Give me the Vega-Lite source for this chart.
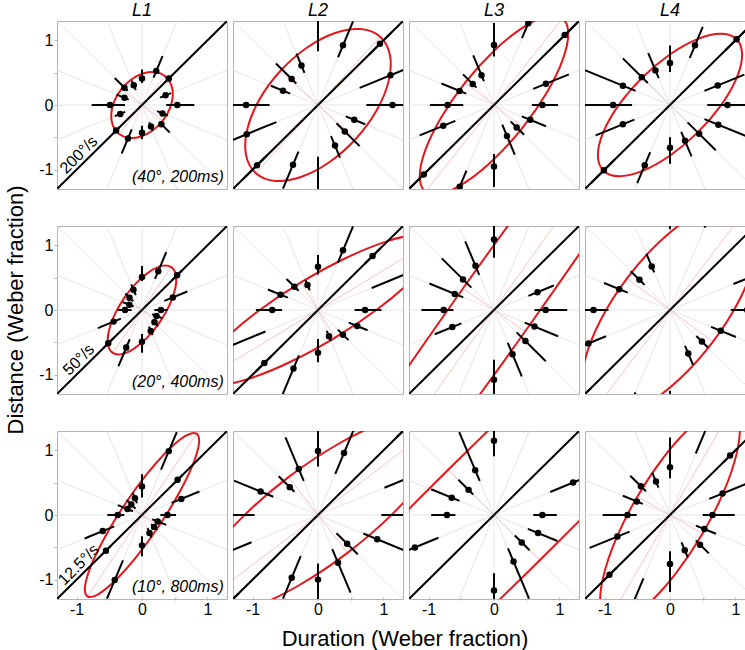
{
"$schema":"https://vega.github.io/schema/vega-lite/v6.json",
"padding":{"left":4,"top":2,"right":0,"bottom":0},
"config":{"font":"Liberation Sans","view":{"stroke":"#b4b4b4","strokeWidth":1},
"axis":{"grid":false,"domain":false,"tickColor":"#b4b4b4","tickSize":-3,"labelFontSize":16,"labelColor":"#000","labelPadding":4,"minExtent":0},
"axisX":{"minExtent":0},"axisY":{"minExtent":0}},
"datasets":{"dirs":[
{"k":0,"z":0,"c":1,"s":0,"ex":2,"ey":0},
{"k":1,"z":0,"c":0.9239,"s":0.3827,"ex":1.848,"ey":0.765},
{"k":2,"z":0,"c":0.7071,"s":0.7071,"ex":1.414,"ey":1.414},
{"k":3,"z":0,"c":0.3827,"s":0.9239,"ex":0.765,"ey":1.848},
{"k":4,"z":0,"c":0,"s":1,"ex":0,"ey":2},
{"k":5,"z":0,"c":-0.3827,"s":0.9239,"ex":-0.765,"ey":1.848},
{"k":6,"z":0,"c":-0.7071,"s":0.7071,"ex":-1.414,"ey":1.414},
{"k":7,"z":0,"c":-0.9239,"s":0.3827,"ex":-1.848,"ey":0.765},
{"k":8,"z":0,"c":-1,"s":0,"ex":-2,"ey":0},
{"k":9,"z":0,"c":-0.9239,"s":-0.3827,"ex":-1.848,"ey":-0.765},
{"k":10,"z":0,"c":-0.7071,"s":-0.7071,"ex":-1.414,"ey":-1.414},
{"k":11,"z":0,"c":-0.3827,"s":-0.9239,"ex":-0.765,"ey":-1.848},
{"k":12,"z":0,"c":0,"s":-1,"ex":0,"ey":-2},
{"k":13,"z":0,"c":0.3827,"s":-0.9239,"ex":0.765,"ey":-1.848},
{"k":14,"z":0,"c":0.7071,"s":-0.7071,"ex":1.414,"ey":-1.414},
{"k":15,"z":0,"c":0.9239,"s":-0.3827,"ex":1.848,"ey":-0.765}
]},
"data":{"values":[
{"kind":"lab","row":1,"col":"L1","sp":"200°/s","cond":"(40°, 200ms)"},
{"kind":"lab","row":2,"col":"L1","sp":"50°/s","cond":"(20°, 400ms)"},
{"kind":"lab","row":3,"col":"L1","sp":"12.5°/s","cond":"(10°, 800ms)"},

{"kind":"pt","row":1,"col":"L1","k":0,"r":0.54,"lo":0.37,"hi":0.80},
{"kind":"pt","row":1,"col":"L1","k":1,"r":0.39,"lo":0.30,"hi":0.48},
{"kind":"pt","row":1,"col":"L1","k":2,"r":0.58,"lo":0.50,"hi":0.66},
{"kind":"pt","row":1,"col":"L1","k":3,"r":0.57,"lo":0.46,"hi":0.82},
{"kind":"pt","row":1,"col":"L1","k":4,"r":0.41,"lo":0.34,"hi":0.55},
{"kind":"pt","row":1,"col":"L1","k":5,"r":0.33,"lo":0.25,"hi":0.41},
{"kind":"pt","row":1,"col":"L1","k":6,"r":0.38,"lo":0.31,"hi":0.59},
{"kind":"pt","row":1,"col":"L1","k":7,"r":0.29,"lo":0.22,"hi":0.42},
{"kind":"pt","row":1,"col":"L1","k":8,"r":0.49,"lo":0.26,"hi":0.77},
{"kind":"pt","row":1,"col":"L1","k":9,"r":0.36,"lo":0.28,"hi":0.45},
{"kind":"pt","row":1,"col":"L1","k":10,"r":0.56,"lo":0.48,"hi":0.64},
{"kind":"pt","row":1,"col":"L1","k":11,"r":0.56,"lo":0.41,"hi":0.81},
{"kind":"pt","row":1,"col":"L1","k":12,"r":0.43,"lo":0.32,"hi":0.53},
{"kind":"pt","row":1,"col":"L1","k":13,"r":0.36,"lo":0.29,"hi":0.43},
{"kind":"pt","row":1,"col":"L1","k":14,"r":0.42,"lo":0.37,"hi":0.60},
{"kind":"pt","row":1,"col":"L1","k":15,"r":0.34,"lo":0.25,"hi":0.43},

{"kind":"pt","row":1,"col":"L2","k":0,"r":1.14,"lo":0.74,"hi":1.45},
{"kind":"pt","row":1,"col":"L2","k":1,"r":1.20,"lo":0.69,"hi":1.5},
{"kind":"pt","row":1,"col":"L2","k":2,"r":1.34,"lo":1.1,"hi":1.6},
{"kind":"pt","row":1,"col":"L2","k":3,"r":1.0,"lo":0.80,"hi":1.40},
{"kind":"pt","row":1,"col":"L2","k":4,"r":1.45,"lo":0.83,"hi":1.8},
{"kind":"pt","row":1,"col":"L2","k":5,"r":0.66,"lo":0.54,"hi":0.86},
{"kind":"pt","row":1,"col":"L2","k":6,"r":0.57,"lo":0.47,"hi":0.91},
{"kind":"pt","row":1,"col":"L2","k":7,"r":0.58,"lo":0.46,"hi":0.78},
{"kind":"pt","row":1,"col":"L2","k":8,"r":1.10,"lo":0.74,"hi":1.4},
{"kind":"pt","row":1,"col":"L2","k":9,"r":1.18,"lo":0.69,"hi":1.5},
{"kind":"pt","row":1,"col":"L2","k":10,"r":1.32,"lo":1.1,"hi":1.6},
{"kind":"pt","row":1,"col":"L2","k":11,"r":1.0,"lo":0.78,"hi":1.40},
{"kind":"pt","row":1,"col":"L2","k":12,"r":1.45,"lo":0.80,"hi":1.8},
{"kind":"pt","row":1,"col":"L2","k":13,"r":0.68,"lo":0.52,"hi":0.88},
{"kind":"pt","row":1,"col":"L2","k":14,"r":0.58,"lo":0.40,"hi":0.90},
{"kind":"pt","row":1,"col":"L2","k":15,"r":0.60,"lo":0.46,"hi":0.78},

{"kind":"pt","row":1,"col":"L3","k":0,"r":0.74,"lo":0.58,"hi":0.98},
{"kind":"pt","row":1,"col":"L3","k":1,"r":0.86,"lo":0.65,"hi":1.24},
{"kind":"pt","row":1,"col":"L3","k":2,"r":1.53,"lo":1.3,"hi":1.8},
{"kind":"pt","row":1,"col":"L3","k":3,"r":1.37,"lo":1.12,"hi":1.6},
{"kind":"pt","row":1,"col":"L3","k":4,"r":0.93,"lo":0.75,"hi":1.27},
{"kind":"pt","row":1,"col":"L3","k":5,"r":0.50,"lo":0.40,"hi":0.83},
{"kind":"pt","row":1,"col":"L3","k":6,"r":0.46,"lo":0.38,"hi":0.67},
{"kind":"pt","row":1,"col":"L3","k":7,"r":0.57,"lo":0.46,"hi":0.87},
{"kind":"pt","row":1,"col":"L3","k":8,"r":0.71,"lo":0.47,"hi":0.98},
{"kind":"pt","row":1,"col":"L3","k":9,"r":0.84,"lo":0.64,"hi":1.23},
{"kind":"pt","row":1,"col":"L3","k":10,"r":1.52,"lo":1.3,"hi":1.8},
{"kind":"pt","row":1,"col":"L3","k":11,"r":1.37,"lo":1.10,"hi":1.6},
{"kind":"pt","row":1,"col":"L3","k":12,"r":0.95,"lo":0.76,"hi":1.27},
{"kind":"pt","row":1,"col":"L3","k":13,"r":0.52,"lo":0.33,"hi":0.83},
{"kind":"pt","row":1,"col":"L3","k":14,"r":0.49,"lo":0.36,"hi":0.65},
{"kind":"pt","row":1,"col":"L3","k":15,"r":0.60,"lo":0.46,"hi":0.86},

{"kind":"pt","row":1,"col":"L4","k":0,"r":0.88,"lo":0.57,"hi":1.35},
{"kind":"pt","row":1,"col":"L4","k":1,"r":0.79,"lo":0.57,"hi":1.23},
{"kind":"pt","row":1,"col":"L4","k":2,"r":1.44,"lo":1.2,"hi":1.7},
{"kind":"pt","row":1,"col":"L4","k":3,"r":1.0,"lo":0.79,"hi":1.31},
{"kind":"pt","row":1,"col":"L4","k":4,"r":0.65,"lo":0.51,"hi":0.92},
{"kind":"pt","row":1,"col":"L4","k":5,"r":0.58,"lo":0.45,"hi":0.87},
{"kind":"pt","row":1,"col":"L4","k":6,"r":0.61,"lo":0.48,"hi":1.02},
{"kind":"pt","row":1,"col":"L4","k":7,"r":0.78,"lo":0.57,"hi":1.41},
{"kind":"pt","row":1,"col":"L4","k":8,"r":0.87,"lo":0.58,"hi":1.35},
{"kind":"pt","row":1,"col":"L4","k":9,"r":0.78,"lo":0.59,"hi":1.23},
{"kind":"pt","row":1,"col":"L4","k":10,"r":1.43,"lo":1.2,"hi":1.7},
{"kind":"pt","row":1,"col":"L4","k":11,"r":1.01,"lo":0.79,"hi":1.31},
{"kind":"pt","row":1,"col":"L4","k":12,"r":0.66,"lo":0.50,"hi":0.91},
{"kind":"pt","row":1,"col":"L4","k":13,"r":0.60,"lo":0.45,"hi":0.86},
{"kind":"pt","row":1,"col":"L4","k":14,"r":0.63,"lo":0.38,"hi":0.99},
{"kind":"pt","row":1,"col":"L4","k":15,"r":0.80,"lo":0.57,"hi":1.43},

{"kind":"pt","row":2,"col":"L1","k":0,"r":0.29,"lo":0.19,"hi":0.39},
{"kind":"pt","row":2,"col":"L1","k":1,"r":0.51,"lo":0.37,"hi":0.75},
{"kind":"pt","row":2,"col":"L1","k":2,"r":0.76,"lo":0.65,"hi":0.87},
{"kind":"pt","row":2,"col":"L1","k":3,"r":0.65,"lo":0.52,"hi":0.97},
{"kind":"pt","row":2,"col":"L1","k":4,"r":0.51,"lo":0.45,"hi":0.68},
{"kind":"pt","row":2,"col":"L1","k":5,"r":0.34,"lo":0.25,"hi":0.43},
{"kind":"pt","row":2,"col":"L1","k":6,"r":0.27,"lo":0.19,"hi":0.36},
{"kind":"pt","row":2,"col":"L1","k":7,"r":0.21,"lo":0.14,"hi":0.32},
{"kind":"pt","row":2,"col":"L1","k":8,"r":0.26,"lo":0.16,"hi":0.37},
{"kind":"pt","row":2,"col":"L1","k":9,"r":0.47,"lo":0.35,"hi":0.73},
{"kind":"pt","row":2,"col":"L1","k":10,"r":0.73,"lo":0.62,"hi":0.84},
{"kind":"pt","row":2,"col":"L1","k":11,"r":0.63,"lo":0.49,"hi":0.94},
{"kind":"pt","row":2,"col":"L1","k":12,"r":0.49,"lo":0.37,"hi":0.66},
{"kind":"pt","row":2,"col":"L1","k":13,"r":0.35,"lo":0.28,"hi":0.42},
{"kind":"pt","row":2,"col":"L1","k":14,"r":0.27,"lo":0.22,"hi":0.35},
{"kind":"pt","row":2,"col":"L1","k":15,"r":0.24,"lo":0.17,"hi":0.33},

{"kind":"pt","row":2,"col":"L2","k":0,"r":0.72,"lo":0.56,"hi":0.97},
{"kind":"pt","row":2,"col":"L2","k":1,"r":1.6,"lo":0.89,"hi":2.0},
{"kind":"pt","row":2,"col":"L2","k":2,"r":1.18,"lo":1.0,"hi":1.35},
{"kind":"pt","row":2,"col":"L2","k":3,"r":1.0,"lo":0.79,"hi":1.4},
{"kind":"pt","row":2,"col":"L2","k":4,"r":0.67,"lo":0.55,"hi":0.85},
{"kind":"pt","row":2,"col":"L2","k":5,"r":0.42,"lo":0.33,"hi":0.50},
{"kind":"pt","row":2,"col":"L2","k":6,"r":0.51,"lo":0.42,"hi":0.68},
{"kind":"pt","row":2,"col":"L2","k":7,"r":0.62,"lo":0.50,"hi":0.83},
{"kind":"pt","row":2,"col":"L2","k":8,"r":0.70,"lo":0.55,"hi":0.95},
{"kind":"pt","row":2,"col":"L2","k":9,"r":1.55,"lo":0.87,"hi":2.0},
{"kind":"pt","row":2,"col":"L2","k":10,"r":1.16,"lo":1.0,"hi":1.35},
{"kind":"pt","row":2,"col":"L2","k":11,"r":0.98,"lo":0.76,"hi":1.41},
{"kind":"pt","row":2,"col":"L2","k":12,"r":0.66,"lo":0.45,"hi":0.81},
{"kind":"pt","row":2,"col":"L2","k":13,"r":0.44,"lo":0.35,"hi":0.52},
{"kind":"pt","row":2,"col":"L2","k":14,"r":0.54,"lo":0.43,"hi":0.66},
{"kind":"pt","row":2,"col":"L2","k":15,"r":0.65,"lo":0.51,"hi":0.82},

{"kind":"pt","row":2,"col":"L3","k":0,"r":0.79,"lo":0.62,"hi":1.12},
{"kind":"pt","row":2,"col":"L3","k":1,"r":0.72,"lo":0.57,"hi":0.99},
{"kind":"pt","row":2,"col":"L3","k":2,"r":3.0,"lo":2.5,"hi":3.5},
{"kind":"pt","row":2,"col":"L3","k":3,"r":2.5,"lo":2.0,"hi":3.0},
{"kind":"pt","row":2,"col":"L3","k":4,"r":1.09,"lo":0.81,"hi":1.35},
{"kind":"pt","row":2,"col":"L3","k":5,"r":0.74,"lo":0.59,"hi":1.15},
{"kind":"pt","row":2,"col":"L3","k":6,"r":0.67,"lo":0.49,"hi":1.13},
{"kind":"pt","row":2,"col":"L3","k":7,"r":0.65,"lo":0.51,"hi":1.07},
{"kind":"pt","row":2,"col":"L3","k":8,"r":0.77,"lo":0.62,"hi":1.11},
{"kind":"pt","row":2,"col":"L3","k":9,"r":0.69,"lo":0.54,"hi":0.98},
{"kind":"pt","row":2,"col":"L3","k":10,"r":3.0,"lo":2.5,"hi":3.5},
{"kind":"pt","row":2,"col":"L3","k":11,"r":2.5,"lo":2.0,"hi":3.0},
{"kind":"pt","row":2,"col":"L3","k":12,"r":1.08,"lo":0.77,"hi":1.35},
{"kind":"pt","row":2,"col":"L3","k":13,"r":0.74,"lo":0.55,"hi":1.11},
{"kind":"pt","row":2,"col":"L3","k":14,"r":0.68,"lo":0.49,"hi":1.12},
{"kind":"pt","row":2,"col":"L3","k":15,"r":0.67,"lo":0.51,"hi":1.06},

{"kind":"pt","row":2,"col":"L4","k":0,"r":1.18,"lo":0.93,"hi":1.4},
{"kind":"pt","row":2,"col":"L4","k":1,"r":1.36,"lo":1.05,"hi":1.5},
{"kind":"pt","row":2,"col":"L4","k":2,"r":2.0,"lo":1.7,"hi":2.3},
{"kind":"pt","row":2,"col":"L4","k":3,"r":1.6,"lo":1.38,"hi":1.9},
{"kind":"pt","row":2,"col":"L4","k":4,"r":1.5,"lo":1.25,"hi":1.8},
{"kind":"pt","row":2,"col":"L4","k":5,"r":0.73,"lo":0.63,"hi":0.94},
{"kind":"pt","row":2,"col":"L4","k":6,"r":0.66,"lo":0.55,"hi":0.85},
{"kind":"pt","row":2,"col":"L4","k":7,"r":0.84,"lo":0.70,"hi":1.09},
{"kind":"pt","row":2,"col":"L4","k":8,"r":1.17,"lo":0.94,"hi":1.35},
{"kind":"pt","row":2,"col":"L4","k":9,"r":1.35,"lo":1.06,"hi":1.5},
{"kind":"pt","row":2,"col":"L4","k":10,"r":2.0,"lo":1.7,"hi":2.3},
{"kind":"pt","row":2,"col":"L4","k":11,"r":1.6,"lo":1.38,"hi":1.9},
{"kind":"pt","row":2,"col":"L4","k":12,"r":1.5,"lo":1.25,"hi":1.8},
{"kind":"pt","row":2,"col":"L4","k":13,"r":0.73,"lo":0.60,"hi":0.92},
{"kind":"pt","row":2,"col":"L4","k":14,"r":0.69,"lo":0.57,"hi":0.82},
{"kind":"pt","row":2,"col":"L4","k":15,"r":0.84,"lo":0.68,"hi":1.09},

{"kind":"pt","row":3,"col":"L1","k":0,"r":0.39,"lo":0.28,"hi":0.52},
{"kind":"pt","row":3,"col":"L1","k":1,"r":0.65,"lo":0.49,"hi":0.95},
{"kind":"pt","row":3,"col":"L1","k":2,"r":0.77,"lo":0.66,"hi":0.88},
{"kind":"pt","row":3,"col":"L1","k":3,"r":1.07,"lo":0.76,"hi":1.39},
{"kind":"pt","row":3,"col":"L1","k":4,"r":0.44,"lo":0.27,"hi":0.63},
{"kind":"pt","row":3,"col":"L1","k":5,"r":0.28,"lo":0.20,"hi":0.37},
{"kind":"pt","row":3,"col":"L1","k":6,"r":0.23,"lo":0.14,"hi":0.33},
{"kind":"pt","row":3,"col":"L1","k":7,"r":0.24,"lo":0.15,"hi":0.40},
{"kind":"pt","row":3,"col":"L1","k":8,"r":0.37,"lo":0.27,"hi":0.53},
{"kind":"pt","row":3,"col":"L1","k":9,"r":0.65,"lo":0.46,"hi":0.95},
{"kind":"pt","row":3,"col":"L1","k":10,"r":0.78,"lo":0.67,"hi":0.89},
{"kind":"pt","row":3,"col":"L1","k":11,"r":1.09,"lo":0.76,"hi":1.40},
{"kind":"pt","row":3,"col":"L1","k":12,"r":0.47,"lo":0.33,"hi":0.64},
{"kind":"pt","row":3,"col":"L1","k":13,"r":0.30,"lo":0.22,"hi":0.38},
{"kind":"pt","row":3,"col":"L1","k":14,"r":0.26,"lo":0.20,"hi":0.33},
{"kind":"pt","row":3,"col":"L1","k":15,"r":0.26,"lo":0.17,"hi":0.40},

{"kind":"pt","row":3,"col":"L2","k":0,"r":1.42,"lo":0.97,"hi":1.6},
{"kind":"pt","row":3,"col":"L2","k":1,"r":1.55,"lo":1.10,"hi":1.7},
{"kind":"pt","row":3,"col":"L2","k":2,"r":2.0,"lo":1.7,"hi":2.3},
{"kind":"pt","row":3,"col":"L2","k":3,"r":1.04,"lo":0.69,"hi":1.45},
{"kind":"pt","row":3,"col":"L2","k":4,"r":0.99,"lo":0.75,"hi":1.35},
{"kind":"pt","row":3,"col":"L2","k":5,"r":0.77,"lo":0.57,"hi":1.30},
{"kind":"pt","row":3,"col":"L2","k":6,"r":0.61,"lo":0.51,"hi":0.85},
{"kind":"pt","row":3,"col":"L2","k":7,"r":0.95,"lo":0.74,"hi":1.39},
{"kind":"pt","row":3,"col":"L2","k":8,"r":1.42,"lo":0.97,"hi":1.6},
{"kind":"pt","row":3,"col":"L2","k":9,"r":1.5,"lo":1.10,"hi":1.7},
{"kind":"pt","row":3,"col":"L2","k":10,"r":2.0,"lo":1.7,"hi":2.3},
{"kind":"pt","row":3,"col":"L2","k":11,"r":1.05,"lo":0.69,"hi":1.40},
{"kind":"pt","row":3,"col":"L2","k":12,"r":1.0,"lo":0.75,"hi":1.35},
{"kind":"pt","row":3,"col":"L2","k":13,"r":0.80,"lo":0.57,"hi":1.30},
{"kind":"pt","row":3,"col":"L2","k":14,"r":0.63,"lo":0.40,"hi":0.86},
{"kind":"pt","row":3,"col":"L2","k":15,"r":0.98,"lo":0.75,"hi":1.42},

{"kind":"pt","row":3,"col":"L3","k":0,"r":0.74,"lo":0.60,"hi":0.96},
{"kind":"pt","row":3,"col":"L3","k":1,"r":1.31,"lo":0.93,"hi":1.5},
{"kind":"pt","row":3,"col":"L3","k":2,"r":3.0,"lo":2.5,"hi":3.5},
{"kind":"pt","row":3,"col":"L3","k":3,"r":2.0,"lo":1.5,"hi":2.5},
{"kind":"pt","row":3,"col":"L3","k":4,"r":1.15,"lo":0.91,"hi":1.35},
{"kind":"pt","row":3,"col":"L3","k":5,"r":0.75,"lo":0.57,"hi":1.39},
{"kind":"pt","row":3,"col":"L3","k":6,"r":0.55,"lo":0.45,"hi":0.77},
{"kind":"pt","row":3,"col":"L3","k":7,"r":0.70,"lo":0.57,"hi":1.04},
{"kind":"pt","row":3,"col":"L3","k":8,"r":0.72,"lo":0.59,"hi":0.96},
{"kind":"pt","row":3,"col":"L3","k":9,"r":1.31,"lo":0.92,"hi":1.5},
{"kind":"pt","row":3,"col":"L3","k":10,"r":3.0,"lo":2.5,"hi":3.5},
{"kind":"pt","row":3,"col":"L3","k":11,"r":2.0,"lo":1.5,"hi":2.5},
{"kind":"pt","row":3,"col":"L3","k":12,"r":1.17,"lo":0.90,"hi":1.35},
{"kind":"pt","row":3,"col":"L3","k":13,"r":0.78,"lo":0.56,"hi":1.40},
{"kind":"pt","row":3,"col":"L3","k":14,"r":0.60,"lo":0.45,"hi":0.77},
{"kind":"pt","row":3,"col":"L3","k":15,"r":0.73,"lo":0.56,"hi":1.05},

{"kind":"pt","row":3,"col":"L4","k":0,"r":0.65,"lo":0.50,"hi":0.99},
{"kind":"pt","row":3,"col":"L4","k":1,"r":0.87,"lo":0.65,"hi":1.32},
{"kind":"pt","row":3,"col":"L4","k":2,"r":1.30,"lo":1.15,"hi":1.45},
{"kind":"pt","row":3,"col":"L4","k":3,"r":1.5,"lo":1.03,"hi":1.8},
{"kind":"pt","row":3,"col":"L4","k":4,"r":0.74,"lo":0.57,"hi":1.20},
{"kind":"pt","row":3,"col":"L4","k":5,"r":0.56,"lo":0.46,"hi":0.71},
{"kind":"pt","row":3,"col":"L4","k":6,"r":0.63,"lo":0.52,"hi":0.86},
{"kind":"pt","row":3,"col":"L4","k":7,"r":0.55,"lo":0.45,"hi":0.78},
{"kind":"pt","row":3,"col":"L4","k":8,"r":0.65,"lo":0.51,"hi":1.03},
{"kind":"pt","row":3,"col":"L4","k":9,"r":0.87,"lo":0.67,"hi":1.33},
{"kind":"pt","row":3,"col":"L4","k":10,"r":1.31,"lo":1.15,"hi":1.45},
{"kind":"pt","row":3,"col":"L4","k":11,"r":1.5,"lo":1.06,"hi":1.8},
{"kind":"pt","row":3,"col":"L4","k":12,"r":0.76,"lo":0.56,"hi":1.19},
{"kind":"pt","row":3,"col":"L4","k":13,"r":0.59,"lo":0.46,"hi":0.71},
{"kind":"pt","row":3,"col":"L4","k":14,"r":0.65,"lo":0.56,"hi":0.84},
{"kind":"pt","row":3,"col":"L4","k":15,"r":0.57,"lo":0.43,"hi":0.76},

{"kind":"el","row":1,"col":"L1","t":0,"x":0.351,"y":0.449},
{"kind":"el","row":1,"col":"L1","t":1,"x":0.203,"y":0.509},
{"kind":"el","row":1,"col":"L1","t":2,"x":0.025,"y":0.491},
{"kind":"el","row":1,"col":"L1","t":3,"x":-0.157,"y":0.399},
{"kind":"el","row":1,"col":"L1","t":4,"x":-0.315,"y":0.246},
{"kind":"el","row":1,"col":"L1","t":5,"x":-0.425,"y":0.055},
{"kind":"el","row":1,"col":"L1","t":6,"x":-0.471,"y":-0.144},
{"kind":"el","row":1,"col":"L1","t":7,"x":-0.445,"y":-0.321},
{"kind":"el","row":1,"col":"L1","t":8,"x":-0.351,"y":-0.449},
{"kind":"el","row":1,"col":"L1","t":9,"x":-0.203,"y":-0.509},
{"kind":"el","row":1,"col":"L1","t":10,"x":-0.025,"y":-0.491},
{"kind":"el","row":1,"col":"L1","t":11,"x":0.157,"y":-0.399},
{"kind":"el","row":1,"col":"L1","t":12,"x":0.315,"y":-0.246},
{"kind":"el","row":1,"col":"L1","t":13,"x":0.425,"y":-0.055},
{"kind":"el","row":1,"col":"L1","t":14,"x":0.471,"y":0.144},
{"kind":"el","row":1,"col":"L1","t":15,"x":0.445,"y":0.321},

{"kind":"el","row":1,"col":"L2","t":0,"x":0.950,"y":1.055},
{"kind":"el","row":1,"col":"L2","t":1,"x":0.656,"y":1.175},
{"kind":"el","row":1,"col":"L2","t":2,"x":0.262,"y":1.115},
{"kind":"el","row":1,"col":"L2","t":3,"x":-0.172,"y":0.886},
{"kind":"el","row":1,"col":"L2","t":4,"x":-0.580,"y":0.522},
{"kind":"el","row":1,"col":"L2","t":5,"x":-0.900,"y":0.078},
{"kind":"el","row":1,"col":"L2","t":6,"x":-1.082,"y":-0.377},
{"kind":"el","row":1,"col":"L2","t":7,"x":-1.100,"y":-0.775},
{"kind":"el","row":1,"col":"L2","t":8,"x":-0.950,"y":-1.055},
{"kind":"el","row":1,"col":"L2","t":9,"x":-0.656,"y":-1.175},
{"kind":"el","row":1,"col":"L2","t":10,"x":-0.262,"y":-1.115},
{"kind":"el","row":1,"col":"L2","t":11,"x":0.172,"y":-0.886},
{"kind":"el","row":1,"col":"L2","t":12,"x":0.580,"y":-0.522},
{"kind":"el","row":1,"col":"L2","t":13,"x":0.900,"y":-0.078},
{"kind":"el","row":1,"col":"L2","t":14,"x":1.082,"y":0.377},
{"kind":"el","row":1,"col":"L2","t":15,"x":1.100,"y":0.775},

{"kind":"el","row":1,"col":"L3","t":0,"x":1.047,"y":1.340},
{"kind":"el","row":1,"col":"L3","t":1,"x":0.798,"y":1.370},
{"kind":"el","row":1,"col":"L3","t":2,"x":0.428,"y":1.191},
{"kind":"el","row":1,"col":"L3","t":3,"x":-0.006,"y":0.832},
{"kind":"el","row":1,"col":"L3","t":4,"x":-0.441,"y":0.345},
{"kind":"el","row":1,"col":"L3","t":5,"x":-0.808,"y":-0.194},
{"kind":"el","row":1,"col":"L3","t":6,"x":-1.052,"y":-0.703},
{"kind":"el","row":1,"col":"L3","t":7,"x":-1.136,"y":-1.106},
{"kind":"el","row":1,"col":"L3","t":8,"x":-1.047,"y":-1.340},
{"kind":"el","row":1,"col":"L3","t":9,"x":-0.798,"y":-1.370},
{"kind":"el","row":1,"col":"L3","t":10,"x":-0.428,"y":-1.191},
{"kind":"el","row":1,"col":"L3","t":11,"x":0.006,"y":-0.832},
{"kind":"el","row":1,"col":"L3","t":12,"x":0.441,"y":-0.345},
{"kind":"el","row":1,"col":"L3","t":13,"x":0.808,"y":0.194},
{"kind":"el","row":1,"col":"L3","t":14,"x":1.052,"y":0.703},
{"kind":"el","row":1,"col":"L3","t":15,"x":1.136,"y":1.106},

{"kind":"el","row":1,"col":"L4","t":0,"x":1.018,"y":1.018},
{"kind":"el","row":1,"col":"L4","t":1,"x":0.779,"y":1.103},
{"kind":"el","row":1,"col":"L4","t":2,"x":0.420,"y":1.020},
{"kind":"el","row":1,"col":"L4","t":3,"x":-0.002,"y":0.782},
{"kind":"el","row":1,"col":"L4","t":4,"x":-0.424,"y":0.424},
{"kind":"el","row":1,"col":"L4","t":5,"x":-0.782,"y":0.002},
{"kind":"el","row":1,"col":"L4","t":6,"x":-1.020,"y":-0.420},
{"kind":"el","row":1,"col":"L4","t":7,"x":-1.103,"y":-0.779},
{"kind":"el","row":1,"col":"L4","t":8,"x":-1.018,"y":-1.018},
{"kind":"el","row":1,"col":"L4","t":9,"x":-0.779,"y":-1.103},
{"kind":"el","row":1,"col":"L4","t":10,"x":-0.420,"y":-1.020},
{"kind":"el","row":1,"col":"L4","t":11,"x":0.002,"y":-0.782},
{"kind":"el","row":1,"col":"L4","t":12,"x":0.424,"y":-0.424},
{"kind":"el","row":1,"col":"L4","t":13,"x":0.782,"y":-0.002},
{"kind":"el","row":1,"col":"L4","t":14,"x":1.020,"y":0.420},
{"kind":"el","row":1,"col":"L4","t":15,"x":1.103,"y":0.779},

{"kind":"el","row":2,"col":"L1","t":0,"x":0.447,"y":0.663},
{"kind":"el","row":2,"col":"L1","t":1,"x":0.308,"y":0.683},
{"kind":"el","row":2,"col":"L1","t":2,"x":0.122,"y":0.599},
{"kind":"el","row":2,"col":"L1","t":3,"x":-0.082,"y":0.424},
{"kind":"el","row":2,"col":"L1","t":4,"x":-0.274,"y":0.184},
{"kind":"el","row":2,"col":"L1","t":5,"x":-0.424,"y":-0.084},
{"kind":"el","row":2,"col":"L1","t":6,"x":-0.510,"y":-0.339},
{"kind":"el","row":2,"col":"L1","t":7,"x":-0.518,"y":-0.543},
{"kind":"el","row":2,"col":"L1","t":8,"x":-0.447,"y":-0.663},
{"kind":"el","row":2,"col":"L1","t":9,"x":-0.308,"y":-0.683},
{"kind":"el","row":2,"col":"L1","t":10,"x":-0.122,"y":-0.599},
{"kind":"el","row":2,"col":"L1","t":11,"x":0.082,"y":-0.424},
{"kind":"el","row":2,"col":"L1","t":12,"x":0.274,"y":-0.184},
{"kind":"el","row":2,"col":"L1","t":13,"x":0.424,"y":0.084},
{"kind":"el","row":2,"col":"L1","t":14,"x":0.510,"y":0.339},
{"kind":"el","row":2,"col":"L1","t":15,"x":0.518,"y":0.543},

{"kind":"el","row":2,"col":"L2","t":0,"x":1.766,"y":1.081},
{"kind":"el","row":2,"col":"L2","t":1,"x":1.532,"y":1.163},
{"kind":"el","row":2,"col":"L2","t":2,"x":1.064,"y":1.066},
{"kind":"el","row":2,"col":"L2","t":3,"x":0.435,"y":0.809},
{"kind":"el","row":2,"col":"L2","t":4,"x":-0.261,"y":0.427},
{"kind":"el","row":2,"col":"L2","t":5,"x":-0.917,"y":-0.019},
{"kind":"el","row":2,"col":"L2","t":6,"x":-1.433,"y":-0.462},
{"kind":"el","row":2,"col":"L2","t":7,"x":-1.732,"y":-0.835},
{"kind":"el","row":2,"col":"L2","t":8,"x":-1.766,"y":-1.081},
{"kind":"el","row":2,"col":"L2","t":9,"x":-1.532,"y":-1.163},
{"kind":"el","row":2,"col":"L2","t":10,"x":-1.064,"y":-1.066},
{"kind":"el","row":2,"col":"L2","t":11,"x":-0.435,"y":-0.809},
{"kind":"el","row":2,"col":"L2","t":12,"x":0.261,"y":-0.427},
{"kind":"el","row":2,"col":"L2","t":13,"x":0.917,"y":0.019},
{"kind":"el","row":2,"col":"L2","t":14,"x":1.433,"y":0.462},
{"kind":"el","row":2,"col":"L2","t":15,"x":1.732,"y":0.835},

{"kind":"el","row":2,"col":"L3","t":0,"x":4.592,"y":6.552},
{"kind":"el","row":2,"col":"L3","t":1,"x":4.061,"y":6.182},
{"kind":"el","row":2,"col":"L3","t":2,"x":2.911,"y":4.868},
{"kind":"el","row":2,"col":"L3","t":3,"x":1.320,"y":2.817},
{"kind":"el","row":2,"col":"L3","t":4,"x":-0.475,"y":0.333},
{"kind":"el","row":2,"col":"L3","t":5,"x":-2.198,"y":-2.201},
{"kind":"el","row":2,"col":"L3","t":6,"x":-3.582,"y":-4.397},
{"kind":"el","row":2,"col":"L3","t":7,"x":-4.425,"y":-5.926},
{"kind":"el","row":2,"col":"L3","t":8,"x":-4.592,"y":-6.552},
{"kind":"el","row":2,"col":"L3","t":9,"x":-4.061,"y":-6.182},
{"kind":"el","row":2,"col":"L3","t":10,"x":-2.911,"y":-4.868},
{"kind":"el","row":2,"col":"L3","t":11,"x":-1.320,"y":-2.817},
{"kind":"el","row":2,"col":"L3","t":12,"x":0.475,"y":-0.333},
{"kind":"el","row":2,"col":"L3","t":13,"x":2.198,"y":2.201},
{"kind":"el","row":2,"col":"L3","t":14,"x":3.582,"y":4.397},
{"kind":"el","row":2,"col":"L3","t":15,"x":4.425,"y":5.926},

{"kind":"el","row":2,"col":"L4","t":0,"x":1.184,"y":1.588},
{"kind":"el","row":2,"col":"L4","t":1,"x":0.842,"y":1.655},
{"kind":"el","row":2,"col":"L4","t":2,"x":0.372,"y":1.469},
{"kind":"el","row":2,"col":"L4","t":3,"x":-0.155,"y":1.061},
{"kind":"el","row":2,"col":"L4","t":4,"x":-0.658,"y":0.490},
{"kind":"el","row":2,"col":"L4","t":5,"x":-1.061,"y":-0.155},
{"kind":"el","row":2,"col":"L4","t":6,"x":-1.302,"y":-0.776},
{"kind":"el","row":2,"col":"L4","t":7,"x":-1.346,"y":-1.279},
{"kind":"el","row":2,"col":"L4","t":8,"x":-1.184,"y":-1.588},
{"kind":"el","row":2,"col":"L4","t":9,"x":-0.842,"y":-1.655},
{"kind":"el","row":2,"col":"L4","t":10,"x":-0.372,"y":-1.469},
{"kind":"el","row":2,"col":"L4","t":11,"x":0.155,"y":-1.061},
{"kind":"el","row":2,"col":"L4","t":12,"x":0.658,"y":-0.490},
{"kind":"el","row":2,"col":"L4","t":13,"x":1.061,"y":0.155},
{"kind":"el","row":2,"col":"L4","t":14,"x":1.302,"y":0.776},
{"kind":"el","row":2,"col":"L4","t":15,"x":1.346,"y":1.279},

{"kind":"el","row":3,"col":"L1","t":0,"x":0.834,"y":1.259},
{"kind":"el","row":3,"col":"L1","t":1,"x":0.672,"y":1.228},
{"kind":"el","row":3,"col":"L1","t":2,"x":0.407,"y":1.011},
{"kind":"el","row":3,"col":"L1","t":3,"x":0.080,"y":0.640},
{"kind":"el","row":3,"col":"L1","t":4,"x":-0.259,"y":0.171},
{"kind":"el","row":3,"col":"L1","t":5,"x":-0.558,"y":-0.324},
{"kind":"el","row":3,"col":"L1","t":6,"x":-0.773,"y":-0.769},
{"kind":"el","row":3,"col":"L1","t":7,"x":-0.870,"y":-1.098},
{"kind":"el","row":3,"col":"L1","t":8,"x":-0.834,"y":-1.259},
{"kind":"el","row":3,"col":"L1","t":9,"x":-0.672,"y":-1.228},
{"kind":"el","row":3,"col":"L1","t":10,"x":-0.407,"y":-1.011},
{"kind":"el","row":3,"col":"L1","t":11,"x":-0.080,"y":-0.640},
{"kind":"el","row":3,"col":"L1","t":12,"x":0.259,"y":-0.171},
{"kind":"el","row":3,"col":"L1","t":13,"x":0.558,"y":0.324},
{"kind":"el","row":3,"col":"L1","t":14,"x":0.773,"y":0.769},
{"kind":"el","row":3,"col":"L1","t":15,"x":0.870,"y":1.098},

{"kind":"el","row":3,"col":"L2","t":0,"x":1.877,"y":1.446},
{"kind":"el","row":3,"col":"L2","t":1,"x":1.561,"y":1.560},
{"kind":"el","row":3,"col":"L2","t":2,"x":1.008,"y":1.437},
{"kind":"el","row":3,"col":"L2","t":3,"x":0.302,"y":1.095},
{"kind":"el","row":3,"col":"L2","t":4,"x":-0.451,"y":0.586},
{"kind":"el","row":3,"col":"L2","t":5,"x":-1.136,"y":-0.013},
{"kind":"el","row":3,"col":"L2","t":6,"x":-1.646,"y":-0.608},
{"kind":"el","row":3,"col":"L2","t":7,"x":-1.907,"y":-1.112},
{"kind":"el","row":3,"col":"L2","t":8,"x":-1.877,"y":-1.446},
{"kind":"el","row":3,"col":"L2","t":9,"x":-1.561,"y":-1.560},
{"kind":"el","row":3,"col":"L2","t":10,"x":-1.008,"y":-1.437},
{"kind":"el","row":3,"col":"L2","t":11,"x":-0.302,"y":-1.095},
{"kind":"el","row":3,"col":"L2","t":12,"x":0.451,"y":-0.586},
{"kind":"el","row":3,"col":"L2","t":13,"x":1.136,"y":0.013},
{"kind":"el","row":3,"col":"L2","t":14,"x":1.646,"y":0.608},
{"kind":"el","row":3,"col":"L2","t":15,"x":1.907,"y":1.112},

{"kind":"el","row":3,"col":"L3","t":0,"x":7.07,"y":7.07},
{"kind":"el","row":3,"col":"L3","t":1,"x":6.265,"y":6.801},
{"kind":"el","row":3,"col":"L3","t":2,"x":4.504,"y":5.493},
{"kind":"el","row":3,"col":"L3","t":3,"x":2.061,"y":3.355},
{"kind":"el","row":3,"col":"L3","t":4,"x":-0.700,"y":0.700},
{"kind":"el","row":3,"col":"L3","t":5,"x":-3.355,"y":-2.061},
{"kind":"el","row":3,"col":"L3","t":6,"x":-5.493,"y":-4.504},
{"kind":"el","row":3,"col":"L3","t":7,"x":-6.801,"y":-6.265},
{"kind":"el","row":3,"col":"L3","t":8,"x":-7.07,"y":-7.07},
{"kind":"el","row":3,"col":"L3","t":9,"x":-6.265,"y":-6.801},
{"kind":"el","row":3,"col":"L3","t":10,"x":-4.504,"y":-5.493},
{"kind":"el","row":3,"col":"L3","t":11,"x":-2.061,"y":-3.355},
{"kind":"el","row":3,"col":"L3","t":12,"x":0.700,"y":-0.700},
{"kind":"el","row":3,"col":"L3","t":13,"x":3.355,"y":2.061},
{"kind":"el","row":3,"col":"L3","t":14,"x":5.493,"y":4.504},
{"kind":"el","row":3,"col":"L3","t":15,"x":6.801,"y":6.265},

{"kind":"el","row":3,"col":"L4","t":0,"x":0.945,"y":1.637},
{"kind":"el","row":3,"col":"L4","t":1,"x":0.682,"y":1.623},
{"kind":"el","row":3,"col":"L4","t":2,"x":0.316,"y":1.361},
{"kind":"el","row":3,"col":"L4","t":3,"x":-0.098,"y":0.893},
{"kind":"el","row":3,"col":"L4","t":4,"x":-0.498,"y":0.288},
{"kind":"el","row":3,"col":"L4","t":5,"x":-0.822,"y":-0.361},
{"kind":"el","row":3,"col":"L4","t":6,"x":-1.020,"y":-0.954},
{"kind":"el","row":3,"col":"L4","t":7,"x":-1.064,"y":-1.403},
{"kind":"el","row":3,"col":"L4","t":8,"x":-0.945,"y":-1.637},
{"kind":"el","row":3,"col":"L4","t":9,"x":-0.682,"y":-1.623},
{"kind":"el","row":3,"col":"L4","t":10,"x":-0.316,"y":-1.361},
{"kind":"el","row":3,"col":"L4","t":11,"x":0.098,"y":-0.893},
{"kind":"el","row":3,"col":"L4","t":12,"x":0.498,"y":-0.288},
{"kind":"el","row":3,"col":"L4","t":13,"x":0.822,"y":0.361},
{"kind":"el","row":3,"col":"L4","t":14,"x":1.020,"y":0.954},
{"kind":"el","row":3,"col":"L4","t":15,"x":1.064,"y":1.403}
]},
"transform":[
{"lookup":"k","from":{"data":{"name":"dirs"},"key":"k","fields":["z","c","s","ex","ey"]}},
{"lookup":"t","from":{"data":{"name":"dirs"},"key":"k","fields":["z"]},"as":["zt"]},
{"calculate":"datum.lo*datum.c","as":"bx1"},{"calculate":"datum.lo*datum.s","as":"by1"},
{"calculate":"datum.hi*datum.c","as":"bx2"},{"calculate":"datum.hi*datum.s","as":"by2"},
{"calculate":"datum.r*datum.c","as":"px"},{"calculate":"datum.r*datum.s","as":"py"}
],
"facet":{
"row":{"field":"row","type":"ordinal","title":"Distance (Weber fraction)","header":{"labels":false,"labelPadding":0,"titleOrient":"left","titleFontSize":22,"titleFontWeight":"normal","titleColor":"#000","titlePadding":0}},
"column":{"field":"col","type":"nominal","title":"Duration (Weber fraction)","header":{"labelOrient":"top","titleOrient":"bottom","titleFontSize":22,"titleFontWeight":"normal","titleColor":"#000","titlePadding":2,"labelFontSize":18,"labelFontStyle":"italic","labelPadding":0,"labelColor":"#000"}}
},
"spacing":{"row":35,"column":4},
"spec":{
"width":170,"height":168,
"layer":[
{"transform":[{"filter":"datum.kind=='pt'"}],
"mark":{"type":"rule","color":"#dadada","strokeWidth":0.7,"clip":true},
"encoding":{
"x":{"field":"z","type":"quantitative","scale":{"domain":[-1.3,1.3],"nice":false,"zero":false},"axis":{"title":null,"minExtent":0,"values":[-1,-0.5,0,0.5,1],"labelExpr":"datum.value==0?'0':datum.value==1?'1':datum.value==-1?'-1':''"}},
"y":{"field":"z","type":"quantitative","scale":{"domain":[-1.3,1.3],"nice":false,"zero":false},"axis":{"title":null,"minExtent":0,"values":[-1,-0.5,0,0.5,1],"labelExpr":"datum.value==0?'0':datum.value==1?'1':datum.value==-1?'-1':''"}},
"x2":{"field":"ex"},"y2":{"field":"ey"}}},
{"transform":[{"filter":"datum.kind=='el' && datum.t % 4 == 0"}],
"mark":{"type":"rule","color":"#f29a9a","strokeWidth":0.6,"clip":true},
"encoding":{"x":{"field":"zt","type":"quantitative"},"y":{"field":"zt","type":"quantitative"},"x2":{"field":"x"},"y2":{"field":"y"}}},
{"transform":[{"filter":"datum.kind=='el'"}],
"mark":{"type":"line","color":"#e3161b","strokeWidth":2,"interpolate":"cardinal-closed","clip":true},
"encoding":{"x":{"field":"x","type":"quantitative"},"y":{"field":"y","type":"quantitative"},"order":{"field":"t","type":"quantitative"}}},
{"transform":[{"filter":"datum.kind=='pt' && (datum.k==2 || datum.k==10)"}],
"mark":{"type":"rule","color":"#000","strokeWidth":2,"clip":true},
"encoding":{"x":{"field":"z","type":"quantitative"},"y":{"field":"z","type":"quantitative"},"x2":{"field":"ex"},"y2":{"field":"ey"}}},
{"transform":[{"filter":"datum.kind=='pt'"}],
"mark":{"type":"rule","color":"#000","strokeWidth":2,"clip":true},
"encoding":{"x":{"field":"bx1","type":"quantitative"},"y":{"field":"by1","type":"quantitative"},"x2":{"field":"bx2"},"y2":{"field":"by2"}}},
{"transform":[{"filter":"datum.kind=='pt'"}],
"mark":{"type":"point","filled":true,"color":"#000","opacity":1,"size":42,"clip":true},
"encoding":{"x":{"field":"px","type":"quantitative"},"y":{"field":"py","type":"quantitative"}}},
{"transform":[{"filter":"datum.kind=='lab'"}],
"mark":{"type":"text","angle":-45,"align":"center","baseline":"bottom","fontSize":16,"color":"#000","dy":-1},
"encoding":{"x":{"datum":-0.87,"type":"quantitative"},"y":{"datum":-0.87,"type":"quantitative"},"text":{"field":"sp"}}},
{"transform":[{"filter":"datum.kind=='lab'"}],
"mark":{"type":"text","align":"right","baseline":"middle","fontSize":16,"fontStyle":"italic","color":"#000"},
"encoding":{"x":{"datum":1.25,"type":"quantitative"},"y":{"datum":-1.12,"type":"quantitative"},"text":{"field":"cond"}}}
]}
}
